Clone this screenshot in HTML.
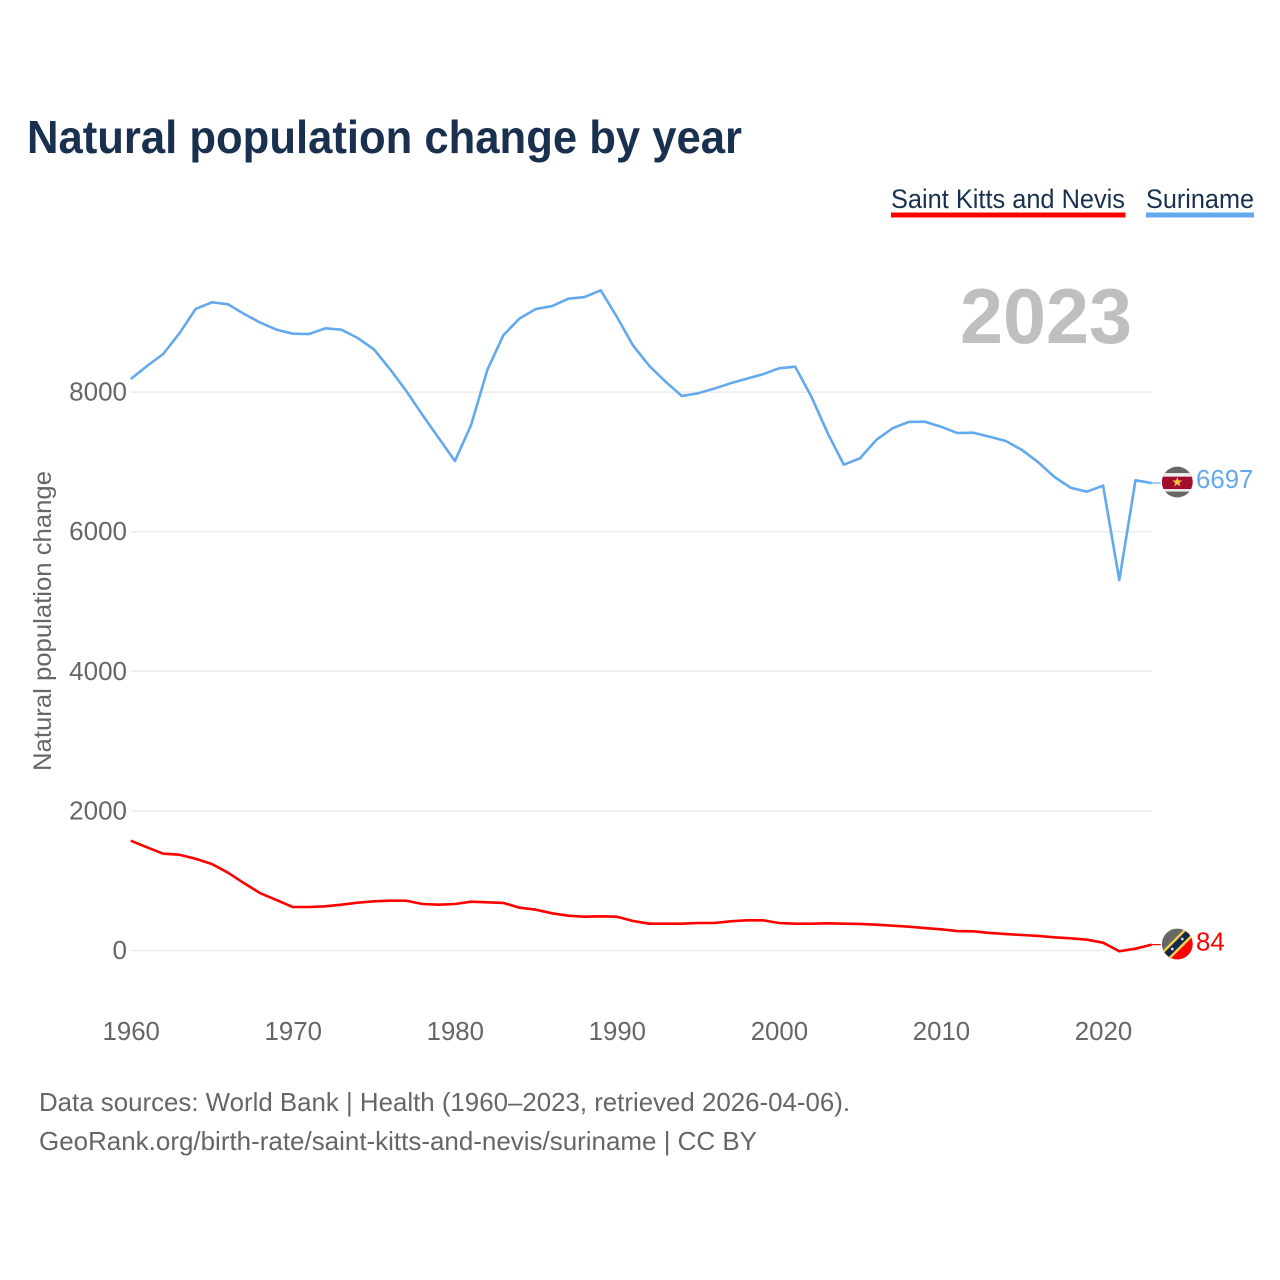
<!DOCTYPE html>
<html lang="en">
<head>
<meta charset="utf-8">
<title>Natural population change by year</title>
<style>
html,body{margin:0;padding:0;background:#fff;}
svg{display:block;font-family:"Liberation Sans",sans-serif;}
</style>
</head>
<body>
<svg id="chart" xmlns="http://www.w3.org/2000/svg" width="1280" height="1280" viewBox="0 0 1280 1280">
  <rect width="1280" height="1280" fill="#ffffff"/>
  <text x="27" y="153" font-size="46" font-weight="700" fill="#19304f" textLength="715" lengthAdjust="spacingAndGlyphs">Natural population change by year</text>

  <g>
    <text x="891" y="208" font-size="27" fill="#19304f" textLength="234" lengthAdjust="spacingAndGlyphs">Saint Kitts and Nevis</text>
    <rect x="891" y="212.5" width="234.5" height="5" fill="#ff0000"/>
  </g>
  <g>
    <text x="1146" y="208" font-size="27" fill="#19304f" textLength="108" lengthAdjust="spacingAndGlyphs">Suriname</text>
    <rect x="1146" y="212.5" width="108" height="5" fill="#63a9ee"/>
  </g>

  <text x="960" y="343" font-size="78" font-weight="700" fill="#bfbfbf" textLength="172" lengthAdjust="spacingAndGlyphs">2023</text>

  <g id="grid"></g>
  <g id="y-ticks"></g>
  <g id="x-ticks"></g>
  <text transform="translate(51,771) rotate(-90)" x="0" y="0" font-size="25" fill="#666666" textLength="300" lengthAdjust="spacingAndGlyphs">Natural population change</text>

  <g id="series"></g>

  <defs>
    <clipPath id="flag-clip"><circle cx="0" cy="0" r="15.4"/></clipPath>
  </defs>

  <g id="flag-kn">
    <g clip-path="url(#flag-clip)">
      <rect x="-16" y="-16" width="32" height="32" fill="#666864"/>
      <polygon points="-16,16 16,-16 16,16" fill="#ff0000"/>
      <polygon points="-16,8 8,-16 16,-16 16,-8 -8,16 -16,16" fill="#f4cf4a"/>
      <polygon points="-16,11.5 11.5,-16 16,-16 16,-11.5 -11.5,16 -16,16" fill="#15294b"/>
      <circle cx="-5" cy="5" r="1.4" fill="#dddddd"/>
      <circle cx="5" cy="-5" r="1.4" fill="#dddddd"/>
    </g>
  </g>
  <g id="flag-sr">
    <g clip-path="url(#flag-clip)">
      <rect x="-16" y="-16" width="32" height="32" fill="#666864"/>
      <rect x="-16" y="-9" width="32" height="18.5" fill="#ededed"/>
      <rect x="-16" y="-5.4" width="32" height="12.4" fill="#a30d2d"/>
      <polygon points="0,-5 1.3,-1.5 5,-1.5 2,0.8 3.1,4.4 0,2.2 -3.1,4.4 -2,0.8 -5,-1.5 -1.3,-1.5" fill="#f3c544"/>
    </g>
  </g>
  <text id="value-kn" x="1196" font-size="25.8" fill="#ff0000"></text>
  <text id="value-sr" x="1196" font-size="25.8" fill="#63a9ee"></text>

  <text x="39" y="1111" font-size="26" fill="#666666" textLength="811" lengthAdjust="spacingAndGlyphs">Data sources: World Bank | Health (1960–2023, retrieved 2026-04-06).</text>
  <text x="39" y="1150" font-size="26" fill="#666666" textLength="718" lengthAdjust="spacingAndGlyphs">GeoRank.org/birth-rate/saint-kitts-and-nevis/suriname | CC BY</text>
</svg>

<script>
const firstYear = 1960;
const xTickLabels = [1960, 1970, 1980, 1990, 2000, 2010, 2020];
const yTickLabels = [0, 2000, 4000, 6000, 8000];
const surinameValues = [
  8188, 8374, 8546, 8842, 9191, 9287, 9258, 9119, 8994, 8894,
  8837, 8832, 8914, 8894, 8775, 8613, 8327, 8016, 7672, 7342,
  7013, 7529, 8317, 8818, 9057, 9191, 9233, 9338, 9362, 9458,
  9076, 8665, 8374, 8149, 7944, 7983, 8049, 8126, 8192, 8255,
  8341, 8364, 7934, 7414, 6960, 7052, 7314, 7481, 7572, 7576,
  7504, 7414, 7418, 7361, 7299, 7170, 6994, 6784, 6630, 6573,
  6659, 5308, 6736, 6697
];
const saintKittsValues = [
  1573, 1479, 1387, 1372, 1315, 1239, 1115, 963, 819, 723,
  623, 623, 633, 656, 685, 705, 713, 713, 666, 656,
  666, 699, 691, 681, 613, 585, 533, 499, 484, 490,
  484, 423, 384, 384, 384, 394, 394, 418, 433, 433,
  394, 384, 384, 390, 384, 380, 370, 355, 341, 322,
  304, 279, 275, 251, 236, 222, 208, 189, 175, 155,
  112, -11, 26, 84
];

const NS = 'http://www.w3.org/2000/svg';
function xScale(year) { return 130.8 + (year - firstYear) * 16.205; }
function yScale(value) { return 950.5 - value * 0.0698; }
function make(tag, parent) {
  const el = document.createElementNS(NS, tag);
  parent.appendChild(el);
  return el;
}

const gridGroup = document.getElementById('grid');
const yTickGroup = document.getElementById('y-ticks');
yTickLabels.forEach(function (tick) {
  const line = make('line', gridGroup);
  
  
  line.setAttribute('x1', 131);
  line.setAttribute('x2', 1152);
  line.setAttribute('y1', yScale(tick));
  line.setAttribute('y2', yScale(tick));
  line.setAttribute('stroke', '#ebebeb');
  line.setAttribute('stroke-width', 1.5);

  const label = make('text', yTickGroup);
  
  
  label.setAttribute('x', 127);
  label.setAttribute('y', yScale(tick) + 8.5);
  label.setAttribute('text-anchor', 'end');
  label.setAttribute('font-size', 26);
  label.setAttribute('fill', '#666666');
  label.textContent = tick;
});

const xTickGroup = document.getElementById('x-ticks');
xTickLabels.forEach(function (tick) {
  const label = make('text', xTickGroup);
  
  
  label.setAttribute('x', xScale(tick) + 0.4);
  label.setAttribute('y', 1040);
  label.setAttribute('text-anchor', 'middle');
  label.setAttribute('font-size', 25.8);
  label.setAttribute('fill', '#666666');
  label.textContent = tick;
});

function linePath(values) {
  return values.map(function (v, i) {
    return (i ? 'L' : 'M') + xScale(firstYear + i).toFixed(2) + ' ' + yScale(v).toFixed(2);
  }).join(' ');
}

const seriesGroup = document.getElementById('series');

const saintKittsLine = make('path', seriesGroup);


saintKittsLine.setAttribute('d', linePath(saintKittsValues));
saintKittsLine.setAttribute('fill', 'none');
saintKittsLine.setAttribute('stroke', '#ff0000');
saintKittsLine.setAttribute('stroke-width', 2.6);
saintKittsLine.setAttribute('stroke-linejoin', 'round');

const surinameLine = make('path', seriesGroup);


surinameLine.setAttribute('d', linePath(surinameValues));
surinameLine.setAttribute('fill', 'none');
surinameLine.setAttribute('stroke', '#63a9ee');
surinameLine.setAttribute('stroke-width', 2.6);
surinameLine.setAttribute('stroke-linejoin', 'round');

const endX = xScale(firstYear + surinameValues.length - 1);
const kittsLast = saintKittsValues[saintKittsValues.length - 1];
const surinameLast = surinameValues[surinameValues.length - 1];

const kittsConnector = make('line', seriesGroup);


kittsConnector.setAttribute('x1', endX);
kittsConnector.setAttribute('x2', endX + 9);
kittsConnector.setAttribute('y1', yScale(kittsLast));
kittsConnector.setAttribute('y2', yScale(kittsLast));
kittsConnector.setAttribute('stroke', '#ff0000');
kittsConnector.setAttribute('stroke-width', 1.2);

const surinameConnector = make('line', seriesGroup);


surinameConnector.setAttribute('x1', endX);
surinameConnector.setAttribute('x2', endX + 9);
surinameConnector.setAttribute('y1', yScale(surinameLast));
surinameConnector.setAttribute('y2', yScale(surinameLast));
surinameConnector.setAttribute('stroke', '#63a9ee');
surinameConnector.setAttribute('stroke-width', 1.2);

document.getElementById('flag-kn').setAttribute('transform', 'translate(1177.3,' + (yScale(kittsLast) - 0.6) + ')');
document.getElementById('flag-sr').setAttribute('transform', 'translate(1177.3,' + (yScale(surinameLast) - 1) + ')');

const kittsValueLabel = document.getElementById('value-kn');
kittsValueLabel.setAttribute('y', yScale(kittsLast) + 6);
kittsValueLabel.textContent = kittsLast;

const surinameValueLabel = document.getElementById('value-sr');
surinameValueLabel.setAttribute('y', yScale(surinameLast) + 5);
surinameValueLabel.textContent = surinameLast;
</script>
</body>
</html>
